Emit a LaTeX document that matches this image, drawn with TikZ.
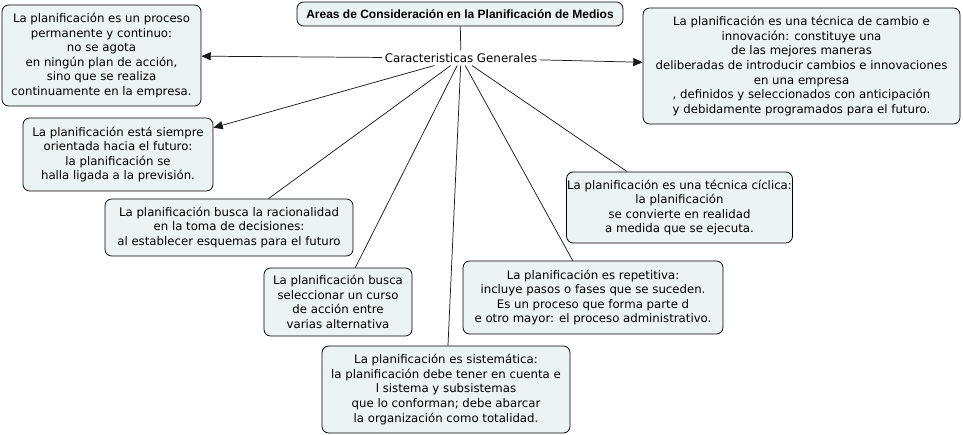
\documentclass[tikz,border=0pt]{standalone}
\usepackage{fontspec}
\setmainfont{DejaVu Sans}
\newfontfamily\titlefont{Liberation Sans}
\usetikzlibrary{arrows.meta}

\definecolor{boxfill}{RGB}{236,243,245}

\begin{document}
\begin{tikzpicture}[x=0.75pt,y=0.75pt,yscale=-1,xscale=1,
  concept/.style={draw=black, fill=boxfill, rounded corners=5pt, line width=0.6pt, align=center, inner sep=2pt, font=\fontsize{8.8}{10.9}\selectfont},
  link/.style={draw=black!90, line width=0.55pt},
  linkarrow/.style={link, -{Triangle[length=7pt,width=6pt]}}]
\useasboundingbox (0,0) rectangle (963,435);

% Title Node
\node [concept, font=\titlefont\bfseries\fontsize{9}{10}\selectfont, minimum width=244.5pt, minimum height=18pt] (title) at (460,14) {Areas de Consideración en la Planificación de Medios};
% Hub Node
\node [inner sep=2pt, font=\fontsize{8.9}{10}\selectfont] (hub) at (461,58) {Caracteristicas Generales};

% Concept Nodes
\node [concept, minimum width=149.25pt, minimum height=75.75pt] (proceso) at (101.5,55.5) {La planificación es un proceso\\ permanente y continuo:\\ no se agota\\ en ningún plan de acción,\\ sino que se realiza\\ continuamente en la empresa.};
\node [concept, minimum width=142.5pt, minimum height=54.75pt] (futuro) at (118,154.5) {La planificación está siempre\\ orientada hacia el futuro:\\ la planificación se\\ halla ligada a la previsión.};
\node [concept, minimum width=186pt, minimum height=42.75pt] (racional) at (229,227.5) {La planificación busca la racionalidad\\ en la toma de decisiones:\\ al establecer esquemas para el futuro};
\node [concept, minimum width=111pt, minimum height=51pt] (curso) at (338,302) {La planificación busca\\ seleccionar un curso\\ de acción entre\\ varias alternativa};
\node [concept, minimum width=186pt, minimum height=65.25pt] (sistema) at (446,389.5) {La planificación es sistemática:\\ la planificación debe tener en cuenta e\\ l sistema y subsistemas\\ que lo conforman; debe abarcar\\ la organización como totalidad.};
\node [concept, minimum width=195pt, minimum height=54.75pt] (repite) at (593,297.5) {La planificación es repetitiva:\\ incluye pasos o fases que se suceden.\\ Es un proceso que forma parte d\\ e otro mayor: el proceso administrativo.};
\node [concept, inner xsep=0.5pt, minimum width=164.25pt, minimum height=53.25pt] (ciclo) at (679.5,207.5) {La planificación es una técnica cíclica:\\ la planificación\\ se convierte en realidad\\ a medida que se ejecuta.};
\node [concept, minimum width=237.75pt, minimum height=87pt] (cambio) at (801.5,66) {La planificación es una técnica de cambio e\\ innovación: constituye una\\ de las mejores maneras\\ deliberadas de introducir cambios e innovaciones\\ en una empresa\\ , definidos y seleccionados con anticipación\\ y debidamente programados para el futuro.};

% Links
\draw [link] (title) -- (hub);
\draw [linkarrow] (hub) -- (proceso);
\draw [linkarrow] (hub) -- (cambio);
\draw [linkarrow] (hub) -- (futuro);
\draw [link] (hub) -- (racional);
\draw [link] (hub) -- (curso);
\draw [link] (hub) -- (sistema);
\draw [link] (hub) -- (repite);
\draw [link] (hub) -- (ciclo);
\end{tikzpicture}
\end{document}
